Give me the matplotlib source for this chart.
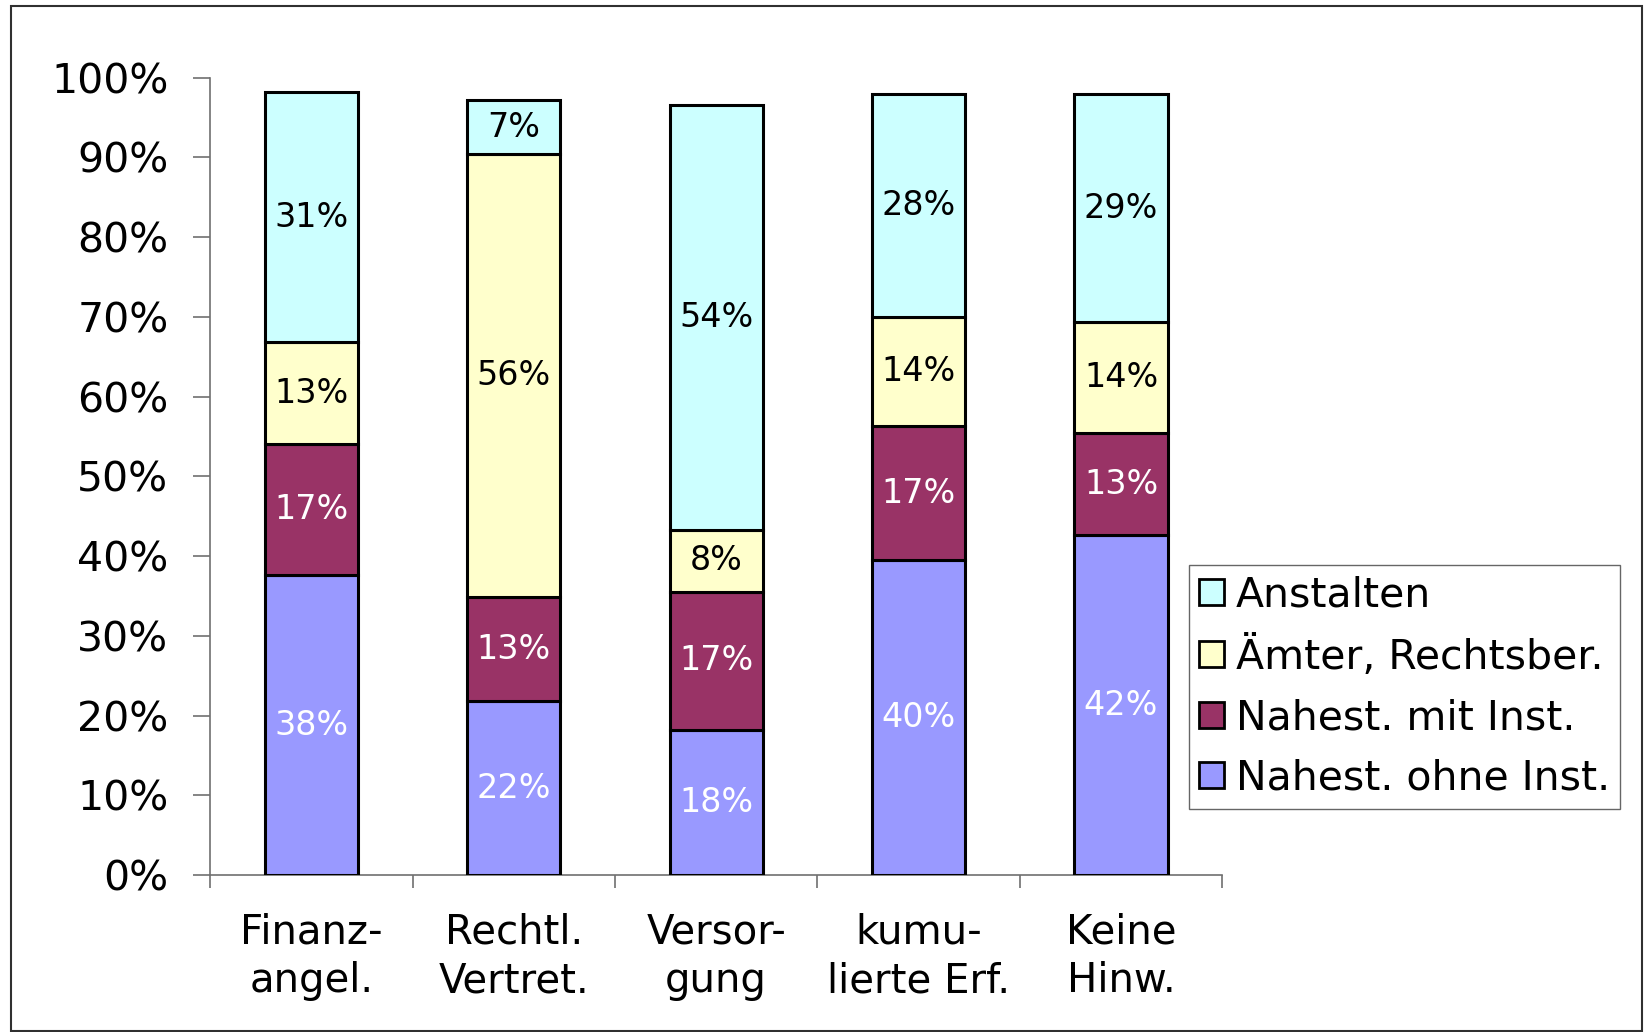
import matplotlib
matplotlib.use("Agg")
import matplotlib.pyplot as plt
from matplotlib.patches import Rectangle
import numpy as np

plt.rcParams['font.family'] = ['DejaVu Sans']

categories = ["Finanz-\nangel.", "Rechtl.\nVertret.", "Versor-\ngung", "kumu-\nlierte Erf.", "Keine\nHinw."]
series_names = ["Nahest. ohne Inst.", "Nahest. mit Inst.", "Ämter, Rechtsber.", "Anstalten"]
ohne_inst = [37.6, 21.8, 18.2, 39.5, 42.6]
mit_inst = [16.5, 13.1, 17.3, 16.8, 12.8]
aemter = [12.7, 55.5, 7.8, 13.7, 13.9]
anstalten = [31.4, 6.8, 53.3, 27.9, 28.6]
labels_ohne = ["38%", "22%", "18%", "40%", "42%"]
labels_mit = ["17%", "13%", "17%", "17%", "13%"]
labels_aemter = ["13%", "56%", "8%", "14%", "14%"]
labels_anstalten = ["31%", "7%", "54%", "28%", "29%"]
yticks = [0, 10, 20, 30, 40, 50, 60, 70, 80, 90, 100]
ytick_labels = ["0%", "10%", "20%", "30%", "40%", "50%", "60%", "70%", "80%", "90%", "100%"]

colors = ["#9999FF", "#993366", "#FFFFCC", "#CCFFFF"]
text_colors = ["white", "white", "black", "black"]

fig = plt.figure(figsize=(16.45, 10.32), dpi=100)
ax = fig.add_axes([0.1277, 0.152, 0.743 - 0.1277, 0.9248 - 0.152])

x = np.arange(len(categories))
data = [ohne_inst, mit_inst, aemter, anstalten]
lbls = [labels_ohne, labels_mit, labels_aemter, labels_anstalten]
bottom = np.zeros(len(categories))
handles = []
for vals, col, tc, lab, name in zip(data, colors, text_colors, lbls, series_names):
    vals = np.array(vals)
    bars = ax.bar(x, vals, width=0.46, bottom=bottom, color=col, edgecolor="black",
                  linewidth=2.2, label=name, zorder=3)
    handles.append(bars)
    for xi, b, v, t in zip(x, bottom, vals, lab):
        ax.text(xi, b + v / 2, t, ha="center", va="center", color=tc, fontsize=24, zorder=4)
    bottom = bottom + vals

ax.set_xlim(-0.5, len(categories) - 0.5)
ax.set_ylim(0, 100)
ax.set_yticks(yticks)
ax.set_yticklabels(ytick_labels, fontsize=29.5)
ax.set_xticks(x)
ax.set_xticklabels(categories, fontsize=29, linespacing=1.27)
ax.set_xticks(np.arange(-0.5, len(categories), 1.0), minor=True)
ax.tick_params(axis="x", which="major", length=0, pad=27)
ax.tick_params(axis="x", which="minor", length=9, width=1.2, color="#707070", direction="out")
ax.tick_params(axis="y", which="major", length=12, width=1.2, color="#707070", direction="out", pad=18)

for s in ["top", "right"]:
    ax.spines[s].set_visible(False)
for s in ["left", "bottom"]:
    ax.spines[s].set_color("#707070")
    ax.spines[s].set_linewidth(1.2)

h = handles[::-1]
leg = fig.legend(h, [series_names[i] for i in range(3, -1, -1)],
                 loc="upper left", bbox_to_anchor=(0.7228, 1 - 565 / 1032),
                 fontsize=29.5, frameon=True, fancybox=False,
                 handlelength=0.6, handleheight=0.6, handletextpad=0.3,
                 borderpad=0.25, labelspacing=0.5, borderaxespad=0)
leg.get_frame().set_edgecolor("#404040")
leg.get_frame().set_linewidth(1.0)
for p in leg.get_patches():
    p.set_linewidth(2.0)

fig.patches.append(Rectangle((0.0064, 0.001), 0.9916, 0.9936, transform=fig.transFigure,
                             fill=False, edgecolor="#303030", linewidth=1.5))

fig.savefig("out.png", dpi=100)
